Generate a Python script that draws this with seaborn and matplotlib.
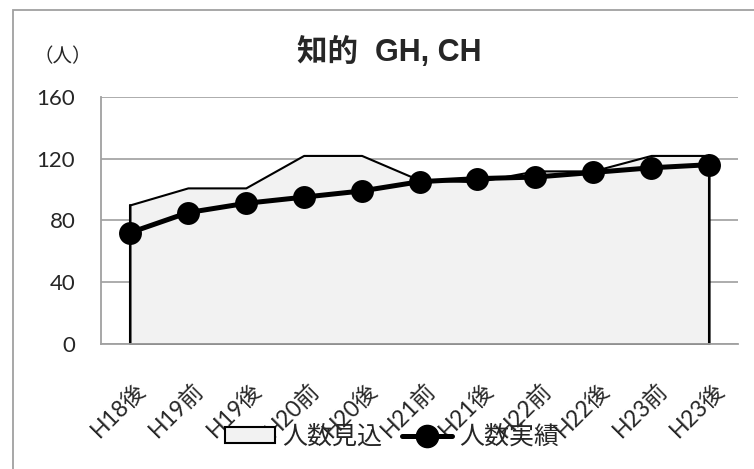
import numpy as np
import pandas as pd
import matplotlib
matplotlib.use("Agg")
import matplotlib.pyplot as plt
import matplotlib.transforms as mtransforms
from matplotlib.patches import Patch, Rectangle
from matplotlib.lines import Line2D
import seaborn as sns

categories = ["H18後", "H19前", "H19後", "H20前", "H20後", "H21前",
              "H21後", "H22前", "H22後", "H23前", "H23後"]
mikomi = [90, 101, 101, 122, 122, 106, 105, 112, 112, 122, 122]
jisseki = [72, 85, 91, 95, 99, 105, 107, 108, 111, 114, 116]
yticks = [0, 40, 80, 120, 160]
title = "知的  GH, CH"
unit_label = "（人）"
legend_labels = ["人数見込", "人数実績"]

sns.set_style("white")
plt.rcParams["font.family"] = ["Lato", "Noto Sans CJK JP", "DejaVu Sans"]

W, H = 754, 469
fig = plt.figure(figsize=(W / 100, H / 100), dpi=100)
ax = fig.add_axes([101 / W, 1 - 344 / H, (738 - 101) / W, (344 - 96.7) / H])

df = pd.DataFrame({"pos": np.arange(len(categories)), "cat": categories,
                   "mikomi": mikomi, "jisseki": jisseki})

# area (見込)
ax.fill_between(df["pos"], 0, df["mikomi"], facecolor="#f2f2f2",
                edgecolor="black", linewidth=1.5, zorder=2)
ax.plot([df["pos"].iloc[0]] * 2, [0, mikomi[0]], color="black", lw=1.5, zorder=2)
ax.plot([df["pos"].iloc[-1]] * 2, [0, mikomi[-1]], color="black", lw=1.5, zorder=2)

# line (実績)
sns.lineplot(data=df, x="pos", y="jisseki", ax=ax, color="black", lw=3.6,
             marker="o", markersize=16.5, markeredgewidth=0, zorder=4,
             legend=False)

ax.set_xlim(-0.5, len(categories) - 0.5)
ax.set_ylim(0, 160)
ax.set_yticks(yticks)
ax.set_yticklabels([str(v) for v in yticks], fontsize=16)
ax.set_xlabel("")
ax.set_ylabel("")
ax.grid(axis="y", color="#a6a6a6", lw=1.3, zorder=0)
ax.grid(axis="x", visible=False)
ax.set_axisbelow(True)
for s in ["top", "right"]:
    ax.spines[s].set_visible(False)
for s in ["left", "bottom"]:
    ax.spines[s].set_color("#a0a0a0")
    ax.spines[s].set_linewidth(1.3)
    ax.spines[s].set_zorder(5)
ax.tick_params(axis="y", length=0, pad=18.5)
ax.tick_params(axis="x", length=0, pad=0)

ax.set_xticks(df["pos"])
ax.set_xticklabels(categories, fontsize=16.5, rotation=45, ha="right",
                   va="top", rotation_mode="anchor")
off = mtransforms.ScaledTranslation(5 / 100, -35 / 100, fig.dpi_scale_trans)
for lab in ax.get_xticklabels():
    lab.set_transform(lab.get_transform() + off)

fig.text(389 / W, 1 - 52.5 / H, title, fontsize=22, fontweight="bold",
         ha="center", va="center",
         family=["Liberation Sans", "Noto Sans CJK JP"])
fig.text(63 / W, 1 - 57 / H, unit_label, fontsize=14, ha="center", va="center",
         family=["Noto Sans CJK JP"])

handles = [Patch(facecolor="#f2f2f2", edgecolor="black", linewidth=1.5),
           Line2D([], [], color="black", lw=3.6, marker="o", markersize=16)]
fig.legend(handles, legend_labels, loc="center",
           bbox_to_anchor=(392 / W, 1 - 437 / H), ncol=2, frameon=False,
           prop={"family": ["Noto Sans CJK JP"], "size": 18},
           handlelength=2.0, handleheight=0.6, handletextpad=0.3,
           columnspacing=0.8, borderpad=0, borderaxespad=0)

fig.add_artist(Rectangle((12.5 / W, -0.1), 1.2, 1 - 10 / H + 0.1,
                         transform=fig.transFigure, fill=False,
                         edgecolor="#a0a0a0", lw=1.3))

fig.savefig("out.png", dpi=100)
